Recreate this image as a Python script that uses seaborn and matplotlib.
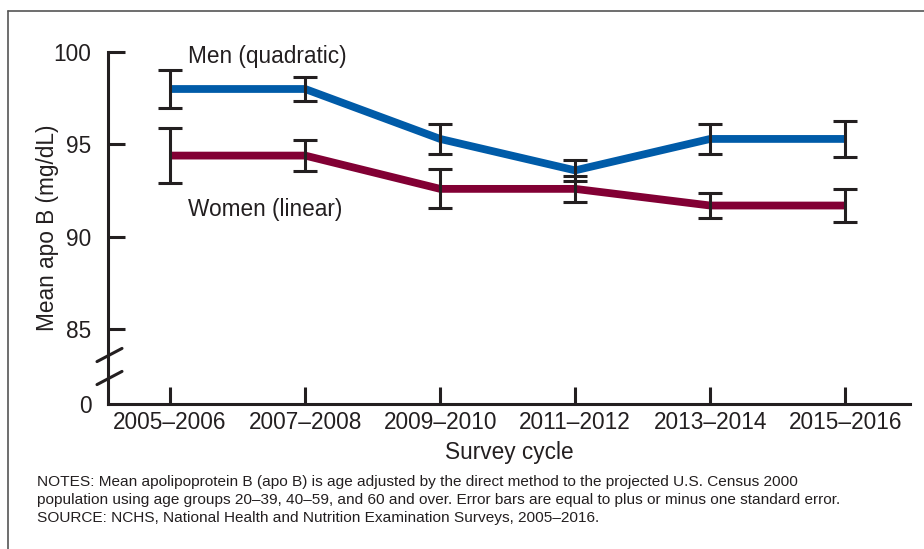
"""
apo B trend chart, NHANES 2005-2016
"""
import matplotlib
matplotlib.use("Agg")
import matplotlib.pyplot as plt
from matplotlib.lines import Line2D
import seaborn as sns
import pandas as pd
import numpy as np

cycles = ["2005–2006", "2007–2008", "2009–2010", "2011–2012", "2013–2014", "2015–2016"]
men_mean = [98.0, 98.0, 95.3, 93.6, 95.3, 95.3]
men_se = [1.05, 0.65, 0.8, 0.55, 0.8, 0.95]
women_mean = [94.4, 94.4, 92.6, 92.6, 91.7, 91.7]
women_se = [1.5, 0.85, 1.05, 0.7, 0.7, 0.9]
yticks = [85, 90, 95, 100]

BLUE = "#005ba8"
MAROON = "#820034"
INK = "#231f20"
Y_FLOOR = 80.97   # where the "0" of the broken axis sits

sns.set_theme(style="white")
plt.rcParams["font.family"] = ["Liberation Sans", "DejaVu Sans"]

df = pd.DataFrame({
    "cycle": list(range(len(cycles))) * 2,
    "mean": men_mean + women_mean,
    "sex": ["Men"] * len(cycles) + ["Women"] * len(cycles),
})

fig = plt.figure(figsize=(9.24, 5.49), dpi=100)
ax = fig.add_axes([108/924, 1-404/549, (910-108)/924, (404-52)/549])

sns.lineplot(data=df, x="cycle", y="mean", hue="sex", palette={"Men": BLUE, "Women": MAROON},
             linewidth=5.6, legend=False, ax=ax, zorder=2, solid_capstyle="butt")
x = np.arange(len(cycles))
for m, s in [(men_mean, men_se), (women_mean, women_se)]:
    ax.errorbar(x, m, yerr=s, fmt="none", ecolor=INK, elinewidth=2.2, capsize=8.5, capthick=2.2, zorder=3)

ax.set_xlim(-0.46, 5.48)
ax.set_ylim(Y_FLOOR, 100)
ax.set_xticks(x)
ax.set_xticklabels(cycles)
ax.set_yticks(yticks + [Y_FLOOR])
ax.set_yticklabels([str(t) for t in yticks] + ["0"])
ax.tick_params(axis="both", direction="in", length=12, width=2.2, color=INK,
               labelsize=16.3, labelcolor=INK, pad=5, left=True, bottom=True)
ax.tick_params(axis="y", pad=12)
for t in ax.yaxis.get_major_ticks():
    if abs(t.get_loc() - Y_FLOOR) < 0.01:
        t.tick1line.set_visible(False)
for sp in ["top", "right"]:
    ax.spines[sp].set_visible(False)
for sp in ["left", "bottom"]:
    ax.spines[sp].set_color(INK)
    ax.spines[sp].set_linewidth(2.2)

ax.set_xlabel("Survey cycle", fontsize=16.3, color=INK, labelpad=5)
ax.set_ylabel("Mean apo B (mg/dL)", fontsize=16.3, color=INK, labelpad=-4)

ax.text(0.13, 99.78, "Men (quadratic)", fontsize=16.3, color=INK, va="center", clip_on=False)
ax.text(0.13, 91.5, "Women (linear)", fontsize=16.3, color=INK, va="center")

# axis break slashes
for yb in [355, 378]:
    fy = 1 - yb/549
    fig.add_artist(Line2D([97/924, 122/924], [fy - 0.012, fy + 0.012], color=INK, lw=2.2))

# frame
fig.add_artist(Line2D([8/924, 1], [1-11/549, 1-11/549], color="#555555", lw=1.2))
fig.add_artist(Line2D([8/924, 8/924], [0, 1-11/549], color="#555555", lw=1.2))

notes = ("NOTES: Mean apolipoprotein B (apo B) is age adjusted by the direct method to the projected U.S. Census 2000\n"
         "population using age groups 20–39, 40–59, and 60 and over. Error bars are equal to plus or minus one standard error.\n"
         "SOURCE: NCHS, National Health and Nutrition Examination Surveys, 2005–2016.")
fig.text(37/924, 1-475/549, notes, fontsize=11.1, color=INK, va="top", linespacing=1.38)

fig.savefig("out.png", dpi=100, facecolor="white")
